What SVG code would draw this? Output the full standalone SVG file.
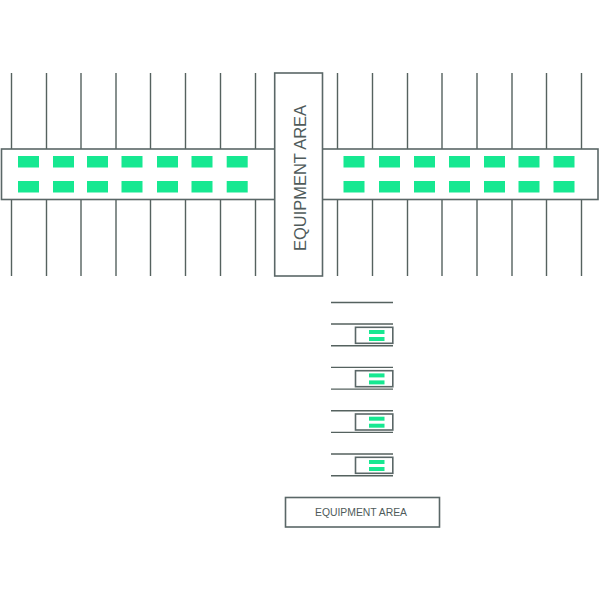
<svg xmlns="http://www.w3.org/2000/svg" width="600" height="600" viewBox="0 0 600 600">
<defs>
<style>
.l{stroke:#55625f;stroke-width:1.4;fill:none}
.b{stroke:#5a6767;stroke-width:1.6;fill:#fff}
.g{fill:#16e891}
.t{font-family:"Liberation Sans",Arial,sans-serif;fill:#4f5b5b;text-anchor:middle}
</style>
<rect id="s" class="g" x="0" y="0" width="21" height="11.5"/>
<g id="u">
<rect class="b" x="355.5" y="3.3" width="37.3" height="16"/>
<rect class="g" x="369" y="6" width="15.5" height="4"/>
<rect class="g" x="369" y="13" width="15.5" height="4"/>
<path class="l" d="M331 0H393M331 21.7H393"/>
</g>
</defs>
<g id="connectors">
<path class="l" d="M11.5 73V276M46.5 73V276M81 73V276M116 73V276M150.5 73V276M185.5 73V276M220.5 73V276M255.5 73V276M337.5 73V276M372.5 73V276M407.5 73V276M442 73V276M477 73V276M512 73V276M546.5 73V276M581.5 73V276"/>
<path class="l" d="M331 302.5H393"/>
</g>
<g id="band">
<rect class="b" x="1.5" y="149" width="596.5" height="50.5"/>
</g>
<g id="cells">
<use href="#s" x="18" y="156"/><use href="#s" x="53" y="156"/><use href="#s" x="87" y="156"/><use href="#s" x="121.5" y="156"/><use href="#s" x="157" y="156"/><use href="#s" x="191.5" y="156"/><use href="#s" x="226.7" y="156"/>
<use href="#s" x="343.5" y="156"/><use href="#s" x="379" y="156"/><use href="#s" x="414" y="156"/><use href="#s" x="449" y="156"/><use href="#s" x="484" y="156"/><use href="#s" x="518.5" y="156"/><use href="#s" x="553.5" y="156"/>
<use href="#s" x="18" y="181"/><use href="#s" x="53" y="181"/><use href="#s" x="87" y="181"/><use href="#s" x="121.5" y="181"/><use href="#s" x="157" y="181"/><use href="#s" x="191.5" y="181"/><use href="#s" x="226.7" y="181"/>
<use href="#s" x="343.5" y="181"/><use href="#s" x="379" y="181"/><use href="#s" x="414" y="181"/><use href="#s" x="449" y="181"/><use href="#s" x="484" y="181"/><use href="#s" x="518.5" y="181"/><use href="#s" x="553.5" y="181"/>
</g>
<g id="equipment-top">
<rect class="b" x="274.7" y="73" width="47.8" height="203"/>
<text class="t" transform="translate(305.8 178) rotate(-90)" font-size="17" textLength="146" lengthAdjust="spacingAndGlyphs">EQUIPMENT AREA</text>
</g>
<g id="unit-1"><use href="#u" y="324"/></g>
<g id="unit-2"><use href="#u" y="367.4"/></g>
<g id="unit-3"><use href="#u" y="410.7"/></g>
<g id="unit-4"><use href="#u" y="454"/></g>
<g id="equipment-bottom">
<rect class="b" x="285.5" y="497.5" width="154" height="29.5"/>
<text class="t" x="361" y="516.3" font-size="10.4" textLength="92" lengthAdjust="spacing">EQUIPMENT AREA</text>
</g>
</svg>
